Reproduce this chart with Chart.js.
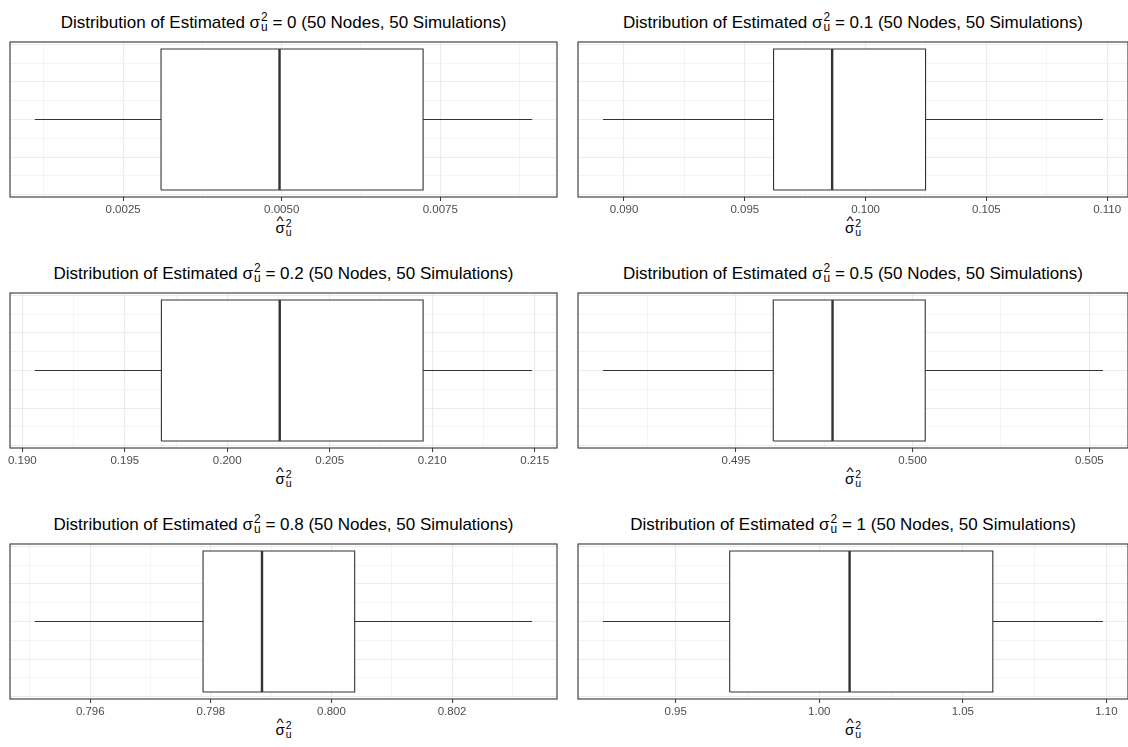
<!DOCTYPE html>
<html>
<head>
<meta charset="utf-8">
<script src="https://cdn.jsdelivr.net/npm/chart.js@4.4.1/dist/chart.umd.min.js"></script>
<style>
  body { margin: 0; background: #fff; font-family: "Liberation Sans", Arial, sans-serif; }
  #wrap { position: relative; width: 1128px; height: 747px; overflow: hidden; background: #fff; }
  canvas { position: absolute; }
  .title, .xlab { position: absolute; white-space: nowrap; transform: translateX(-50%); line-height: 1; color: #000; }
  .title { font-size: 17px; }
  .xlab { font-size: 15px; }
  .st { display: inline-block; font-size: 0.7em; line-height: 0.84em; vertical-align: -0.28em; margin-left: 1px; }
  .st span { display: block; }
  .hat { position: relative; display: inline-block; }
  .hat .h { position: absolute; left: 50%; top: -0.38em; transform: translateX(-50%) scaleX(1.25); font-size: 0.8em; }
</style>
</head>
<body>
<div id="wrap"></div>
<script>
const trueValues = ["0", "0.1", "0.2", "0.5", "0.8", "1"];
const whiskerLow = [0.001109, 0.08913, 0.190611, 0.49124, 0.795081, 0.92469];
const lowerQuartile = [0.003098, 0.096191, 0.196786, 0.496057, 0.79787, 0.96881];
const medians = [0.004966, 0.098616, 0.202561, 0.497734, 0.798848, 1.01057];
const upperQuartile = [0.007229, 0.102484, 0.209557, 0.500356, 0.800385, 1.06045];
const whiskerHigh = [0.008948, 0.10983, 0.214878, 0.505386, 0.803328, 1.09882];
const tickLabels = [
  ["0.0025", "0.0050", "0.0075"],
  ["0.090", "0.095", "0.100", "0.105", "0.110"],
  ["0.190", "0.195", "0.200", "0.205", "0.210", "0.215"],
  ["0.495", "0.500", "0.505"],
  ["0.796", "0.798", "0.800", "0.802"],
  ["0.95", "1.00", "1.05", "1.10"]
];

const colLeft = [10, 578];
const colWidth = [547, 550];
const rowTop = [42, 293, 544];
const panelH = 155, pad = 40, axisH = 22;
const boxHalf = 0.375, yLimit = 0.4125;

const wrap = document.getElementById("wrap");
const stack = '<span class="st"><span>2</span><span>u</span></span>';

const panelBorder = {
  id: "panelBorder",
  afterDatasetsDraw(chart) {
    const { ctx, chartArea: a } = chart;
    ctx.save();
    ctx.strokeStyle = "#333333";
    ctx.lineWidth = 1.1;
    ctx.strokeRect(a.left, a.top, a.right - a.left, a.bottom - a.top);
    ctx.restore();
  }
};

function isMajor(i, v) {
  return tickLabels[i].some(t => Math.abs(parseFloat(t) - v) < 1e-9);
}

function gridValues(i, min, max) {
  const major = tickLabels[i].map(Number);
  const half = (major[1] - major[0]) / 2;
  const vals = [];
  for (let k = -1; k <= 2 * major.length - 1; k++) {
    const v = Number((major[0] + k * half).toFixed(10));
    if (v >= min && v <= max) vals.push(v);
  }
  return vals;
}

function segment(points, width) {
  return {
    data: points,
    showLine: true,
    fill: false,
    borderColor: "#333333",
    borderWidth: width,
    pointRadius: 0
  };
}

function drawPanel(i) {
  const col = i % 2;
  const left = colLeft[col];
  const panelW = colWidth[col];
  const top = rowTop[Math.floor(i / 2)];

  const title = document.createElement("div");
  title.className = "title";
  title.style.left = (left + panelW / 2) + "px";
  title.style.top = (top - 30) + "px";
  title.innerHTML = "Distribution of Estimated \u03c3" + stack + " = " + trueValues[i] + " (50 Nodes, 50 Simulations)";
  wrap.appendChild(title);

  const xlab = document.createElement("div");
  xlab.className = "xlab";
  xlab.style.left = (left + panelW / 2) + "px";
  xlab.style.top = (top + panelH + 22) + "px";
  xlab.innerHTML = '<span class="hat">\u03c3<span class="h">^</span></span>' + stack;
  wrap.appendChild(xlab);

  const canvas = document.createElement("canvas");
  canvas.width = panelW + 2 * pad;
  canvas.height = panelH + 2 + axisH;
  canvas.style.left = (left - pad) + "px";
  canvas.style.top = (top - 2) + "px";
  wrap.appendChild(canvas);

  const spread = whiskerHigh[i] - whiskerLow[i];
  const xMin = whiskerLow[i] - 0.05 * spread;
  const xMax = whiskerHigh[i] + 0.05 * spread;

  const q1 = lowerQuartile[i], q3 = upperQuartile[i];
  const box = segment([
    { x: q1, y: -boxHalf }, { x: q1, y: boxHalf }, { x: q3, y: boxHalf },
    { x: q3, y: -boxHalf }, { x: q1, y: -boxHalf }
  ], 1.1);
  box.fill = "shape";
  box.backgroundColor = "#ffffff";

  new Chart(canvas, {
    type: "scatter",
    data: {
      datasets: [
        segment([{ x: medians[i], y: -boxHalf }, { x: medians[i], y: boxHalf }], 2.4),
        segment([{ x: whiskerLow[i], y: 0 }, { x: q1, y: 0 }], 1.1),
        segment([{ x: q3, y: 0 }, { x: whiskerHigh[i], y: 0 }], 1.1),
        box
      ]
    },
    options: {
      responsive: false,
      animation: false,
      layout: { padding: { left: pad, right: pad, top: 2, bottom: 0 } },
      plugins: { legend: { display: false }, tooltip: { enabled: false } },
      scales: {
        x: {
          type: "linear",
          position: "bottom",
          min: xMin,
          max: xMax,
          offset: false,
          afterBuildTicks: s => { s.ticks = gridValues(i, xMin, xMax).map(v => ({ value: v })); },
          afterFit: s => { s.height = axisH; },
          border: { display: false },
          grid: {
            color: "#ebebeb",
            lineWidth: c => (c.tick && isMajor(i, c.tick.value) ? 1.1 : 0.55),
            tickColor: c => (c.tick && isMajor(i, c.tick.value) ? "#333333" : "rgba(0,0,0,0)"),
            tickLength: 4,
            tickWidth: 1
          },
          ticks: {
            autoSkip: false,
            maxRotation: 0,
            padding: 2,
            color: "#4d4d4d",
            font: { family: "Liberation Sans", size: 11.5 },
            callback: v => tickLabels[i].find(t => Math.abs(parseFloat(t) - v) < 1e-9) || ""
          }
        },
        y: {
          type: "linear",
          position: "left",
          min: -yLimit,
          max: yLimit,
          offset: false,
          afterBuildTicks: s => {
            const vals = [];
            for (let k = -4; k <= 4; k++) vals.push({ value: k / 10 });
            s.ticks = vals;
          },
          afterFit: s => { s.width = 0; },
          border: { display: false },
          ticks: { display: false },
          grid: {
            drawTicks: false,
            color: "#ebebeb",
            lineWidth: c => (c.tick && Math.round(c.tick.value * 10) % 2 === 0 ? 1.1 : 0.55)
          }
        }
      }
    },
    plugins: [panelBorder]
  });
}

for (let i = 0; i < 6; i++) drawPanel(i);
</script>
</body>
</html>
